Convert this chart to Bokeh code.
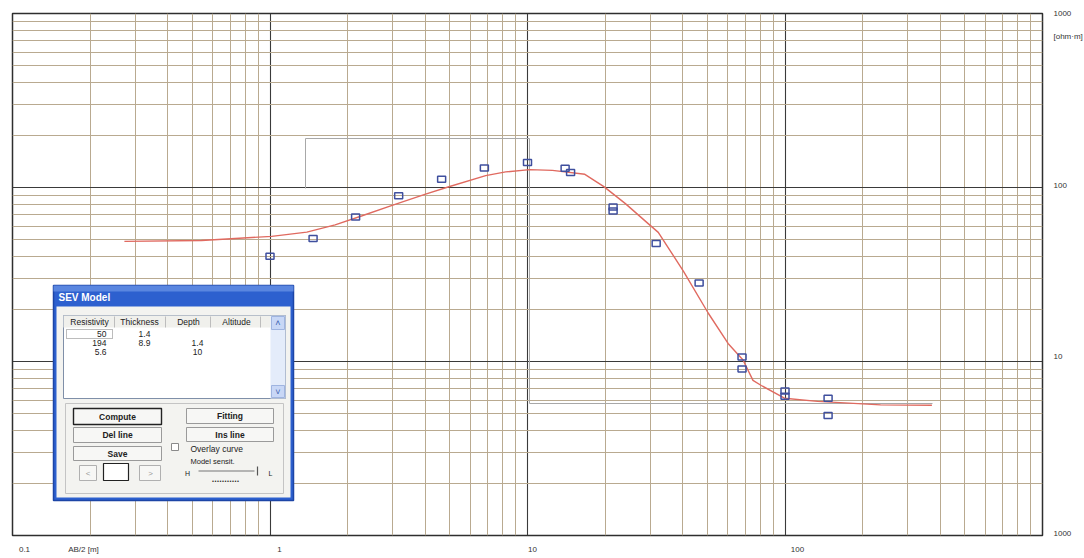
from bokeh.plotting import figure
from bokeh.models import FixedTicker, Range1d, CustomJSTickFormatter
from bokeh.embed import file_html
from bokeh.resources import INLINE
from bokeh.core.properties import value

# ---------------- data ----------------
ab2 = [1.0, 1.47, 2.15, 3.16, 4.64, 6.8, 10.0, 14.0, 14.7, 21.5, 21.5, 31.6,
       46.4, 68.1, 68.1, 100.0, 100.0, 147.0, 147.0]
rho_obs = [40.3, 51.0, 67.7, 89.8, 111.6, 129.3, 139.3, 128.9, 122.1, 77.3, 73.3,
           47.7, 28.3, 10.6, 9.07, 6.77, 6.31, 6.15, 4.89]

curve_ab2 = [0.272, 0.542, 1.015, 1.39, 1.79, 2.28, 2.98, 4.02, 4.95, 6.88, 8.23,
             10.2, 12.5, 16.7, 19.8, 24.0, 29.5, 32.2, 40.3, 50.3, 60.1, 68.7,
             75.1, 80.9, 99.5, 133.8, 235.0, 372.0]
curve_rho = [49.0, 49.6, 52.4, 55.4, 61.0, 68.8, 78.9, 91.6, 101.0, 117.0, 122.9,
             126.7, 125.4, 119.1, 101.2, 80.8, 61.8, 55.2, 33.1, 19.0, 12.7, 10.2,
             7.79, 7.28, 6.15, 5.90, 5.63, 5.60]

x_major = [0.1, 1, 10, 100, 1000]
y_major = [1, 10, 100, 1000]
mantissas = [2, 3, 4, 5, 6, 7, 8, 9]
x_axis_texts = ["0.1", "AB/2 [m]", "1", "10", "100"]
y_axis_texts = ["1000", "10", "100", "[ohm\u00b7m]", "1000"]

layer_res = ["50", "194", "5.6"]
layer_thick = ["1.4", "8.9", ""]
layer_depth = ["", "1.4", "10"]
table_headers = ["Resistivity", "Thickness", "Depth", "Altitude"]

# ---------------- layout ----------------
FL, FT, FW, FH = 12, 13, 1030, 522      # frame position on the page (px)
BL, BT, BR, BB = FL, FT, 40, 21

def X(px):
    return 10 ** (-1 + 4 * (px - FL) / FW)

def Y(py):
    return 10 ** (3 - 3 * (py - FT) / FH)

LFONT = "Liberation Sans"
FONT = value(LFONT)

p = figure(x_axis_type="log", y_axis_type="log",
           x_range=Range1d(0.1, 1000), y_range=Range1d(1, 1000),
           x_axis_location="below", y_axis_location="right",
           frame_width=FW, frame_height=FH,
           min_border_left=BL, min_border_right=BR,
           min_border_top=BT, min_border_bottom=BB,
           output_backend="svg", toolbar_location=None)
p.outline_line_color = "#2e2e2e"
p.outline_line_width = 1.5
p.background_fill_color = "white"
p.border_fill_color = "white"

# axes only carry the texts of the original print-out
p.xaxis.ticker = FixedTicker(ticks=[X(24), X(83), X(279), X(532), X(797)])
p.xaxis.formatter = CustomJSTickFormatter(args=dict(labels=x_axis_texts),
                                          code="return labels[index];")
p.yaxis.ticker = FixedTicker(ticks=[Y(533), Y(356), Y(185), Y(36), Y(13.3)])
p.yaxis.formatter = CustomJSTickFormatter(args=dict(labels=y_axis_texts),
                                          code="return labels[index];")
for ax in (p.xaxis, p.yaxis):
    ax.axis_line_color = None
    ax.major_tick_line_color = None
    ax.minor_tick_line_color = None
    ax.major_label_text_font = LFONT
    ax.major_label_text_font_size = "8px"
    ax.major_label_text_color = "#333333"
p.xaxis.major_label_standoff = 3
p.yaxis.major_label_standoff = 5

x_minor = [m * d for d in x_major[:-1] for m in mantissas]
y_minor = [m * d for d in y_major[:-1] for m in mantissas]
p.xgrid.ticker = FixedTicker(ticks=x_major, minor_ticks=x_minor)
p.ygrid.ticker = FixedTicker(ticks=y_major, minor_ticks=y_minor)
for g in (p.xgrid, p.ygrid):
    g.grid_line_color = "#3a3a3a"
    g.grid_line_width = 1.1
    g.minor_grid_line_color = "#b9aa90"
    g.minor_grid_line_width = 1.0

# faint zoom-window outline from the program
p.line(x=[X(305), X(305), X(529), X(529), X(932)],
       y=[Y(188), Y(138), Y(138), Y(403), Y(403)],
       line_color="#a8a8a8", line_width=1.0)

# model curve and observed data
p.line(curve_ab2, curve_rho, line_color="#e06a60", line_width=1.4)
p.rect(ab2, rho_obs, width=8, height=6, width_units="screen", height_units="screen",
       fill_color=None, line_color="#3f4f9e", line_width=1.5)

# ---------------- dialog window ----------------
def box(l, t, r, b, fill, line="#999999", lw=1.0, dash="solid", alpha=1.0):
    p.quad(left=[X(l)], right=[X(r)], top=[Y(t)], bottom=[Y(b)],
           fill_color=fill, fill_alpha=alpha, line_color=line, line_width=lw,
           line_dash=dash)

def txt(px, py, s, size="8px", align="center", color="#222222", style="normal"):
    p.text(x=[X(px)], y=[Y(py)], text=[s], text_font=FONT, text_font_size=size,
           text_align=align, text_baseline="middle", text_color=color,
           text_font_style=style)

box(53, 285, 293, 500, "#2d60cf", line="#1c45a6", lw=1.5)        # frame + title bar
box(53, 285, 293, 291, "#5a86e0", line=None)                     # title bar highlight
box(56, 306, 290, 497, "#f3f3f0", line=None)                     # client area
txt(58, 297, "SEV Model", size="10px", align="left", color="white", style="bold")

# table
box(63, 315, 285, 398, "white", line="#7f8fa8")
box(63, 315, 270, 327, "#f0f0ec", line=None)
for sx in [114, 165, 210, 260]:
    p.segment(x0=[X(sx)], y0=[Y(316)], x1=[X(sx)], y1=[Y(327)], line_color="#bdbdbd")
head_px = [89, 139, 188, 236]
for h, hx in zip(table_headers, head_px):
    txt(hx, 321.5, h, size="8.5px")
box(270, 315, 285, 398, "#e4ecfa", line=None)
box(271, 316, 284, 329, "#c8d7f6", line="#9fb4e0")
box(271, 385, 284, 397, "#c8d7f6", line="#9fb4e0")
txt(277.5, 322, "\u02c4", size="9px", color="#3a5fb0")
txt(277.5, 391, "\u02c5", size="9px", color="#3a5fb0")
box(66, 329, 112, 338, None, line="#555555", lw=0.8, dash="1 1")
row_py = [333, 342, 351]
for r, th, d, ry in zip(layer_res, layer_thick, layer_depth, row_py):
    txt(106, ry, r, align="right", size="8.5px")
    txt(144, ry, th, size="8.5px")
    txt(197, ry, d, size="8.5px")

# lower panel with buttons
box(65, 403, 283, 493, None, line="#c4c4c4")
buttons = [(73, 408, 161, 424, "Compute", "#222222", 1.4),
           (186, 408, 273, 423, "Fitting", "#9a9a9a", 1.0),
           (73, 427, 161, 442, "Del line", "#9a9a9a", 1.0),
           (186, 427, 273, 441, "Ins line", "#9a9a9a", 1.0),
           (73, 446, 161, 460, "Save", "#9a9a9a", 1.0)]
for l, t, r, b, s, lc, lw in buttons:
    box(l, t, r, b, "#f7f7f5", line=lc, lw=lw)
    txt((l + r) / 2, (t + b) / 2, s, size="8.5px", style="bold")
box(171, 443, 178, 450, "white", line="#8a8a8a")
txt(190, 448, "Overlay curve", align="left", size="8.5px")
txt(190, 461, "Model sensit.", align="left", size="7.5px")
box(79, 465, 96, 480, "#f7f7f5", line="#b0b0b0")
txt(87.5, 472.5, "<", color="#999999")
box(103, 463, 128, 480, "white", line="#222222", lw=1.2)
box(139, 465, 160, 480, "#f7f7f5", line="#b0b0b0")
txt(150, 472.5, ">", color="#999999")
txt(187, 472.5, "H", size="7px")
p.segment(x0=[X(198)], y0=[Y(470.5)], x1=[X(254)], y1=[Y(470.5)], line_color="#777777", line_width=1.2)
p.segment(x0=[X(257)], y0=[Y(466)], x1=[X(257)], y1=[Y(475)], line_color="#555555", line_width=1.2)
txt(270, 472.5, "L", size="7px")
txt(225, 478, "...........", size="9px", style="bold", color="#333333")

open("out.html", "w").write(file_html(p, INLINE))
